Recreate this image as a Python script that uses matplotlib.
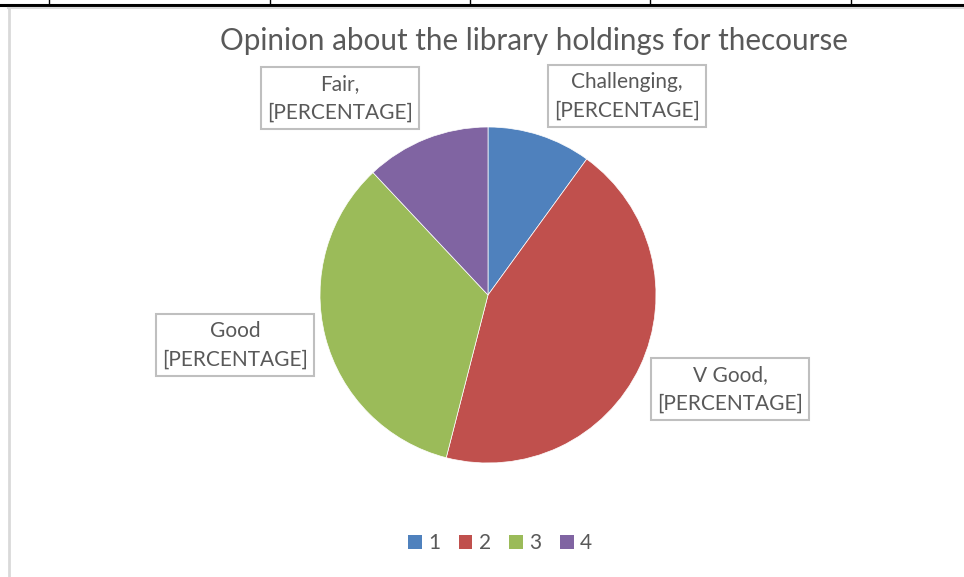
import matplotlib.pyplot as plt
from matplotlib.patches import Patch
from matplotlib.lines import Line2D

plt.rcParams['font.family'] = ['Lato', 'DejaVu Sans']

W, H = 964, 577

categories = ["1", "2", "3", "4"]
names = ["Challenging,", "V Good,", "Good", "Fair,"]
shares = [10, 44, 34, 12]
colors = ["#4F81BD", "#C0504D", "#9BBB59", "#8064A2"]
# label box centres in pixels (x, y from top)
label_pos = [(627, 96), (730, 389), (235, 345), (340, 98)]

fig = plt.figure(figsize=(W / 100, H / 100), dpi=100)
fig.patch.set_facecolor("white")

# table borders peeking in at the top
fig.add_artist(Line2D([0, 1], [1 - 5 / H, 1 - 5 / H], color="black", lw=2.2))
for x in [49, 270, 470, 650, 851]:
    fig.add_artist(Line2D([x / W, x / W], [1, 1 - 5 / H], color="black", lw=1))
fig.add_artist(Line2D([8 / W, 1], [1 - 8 / H, 1 - 8 / H], color="#D9D9D9", lw=1.5))
fig.add_artist(Line2D([9 / W, 9 / W], [1 - 8 / H, 0], color="#D9D9D9", lw=2))

cx, cy, r = 488, 295, 168
ax = fig.add_axes([(cx - r) / W, 1 - (cy + r) / H, 2 * r / W, 2 * r / H])
ax.pie(shares, colors=colors, startangle=90, counterclock=False,
       wedgeprops=dict(edgecolor="white", linewidth=0.5))
ax.set_xlim(-1, 1)
ax.set_ylim(-1, 1)
ax.set_aspect("equal")
ax.axis("off")

for name, (px, py) in zip(names, label_pos):
    fig.text(px / W, 1 - py / H, name + "\n[PERCENTAGE]", ha="center", va="center",
             fontsize=15, color="#595959", linespacing=1.55,
             bbox=dict(boxstyle="square,pad=0.3", fc="white", ec="#BFBFBF", lw=1.5))

fig.text(534 / W, 1 - 41 / H, "Opinion about the library holdings for thecourse",
         ha="center", va="center", fontsize=21.3, color="#595959")

handles = [Patch(facecolor=c, edgecolor="none") for c in colors]
fig.legend(handles, categories, loc="center", bbox_to_anchor=(500 / W, 1 - 543 / H),
           ncol=4, frameon=False, fontsize=15, handlelength=0.65, handleheight=0.65,
           handletextpad=0.3, columnspacing=0.9, labelcolor="#595959")

fig.savefig("out.png", dpi=100)
